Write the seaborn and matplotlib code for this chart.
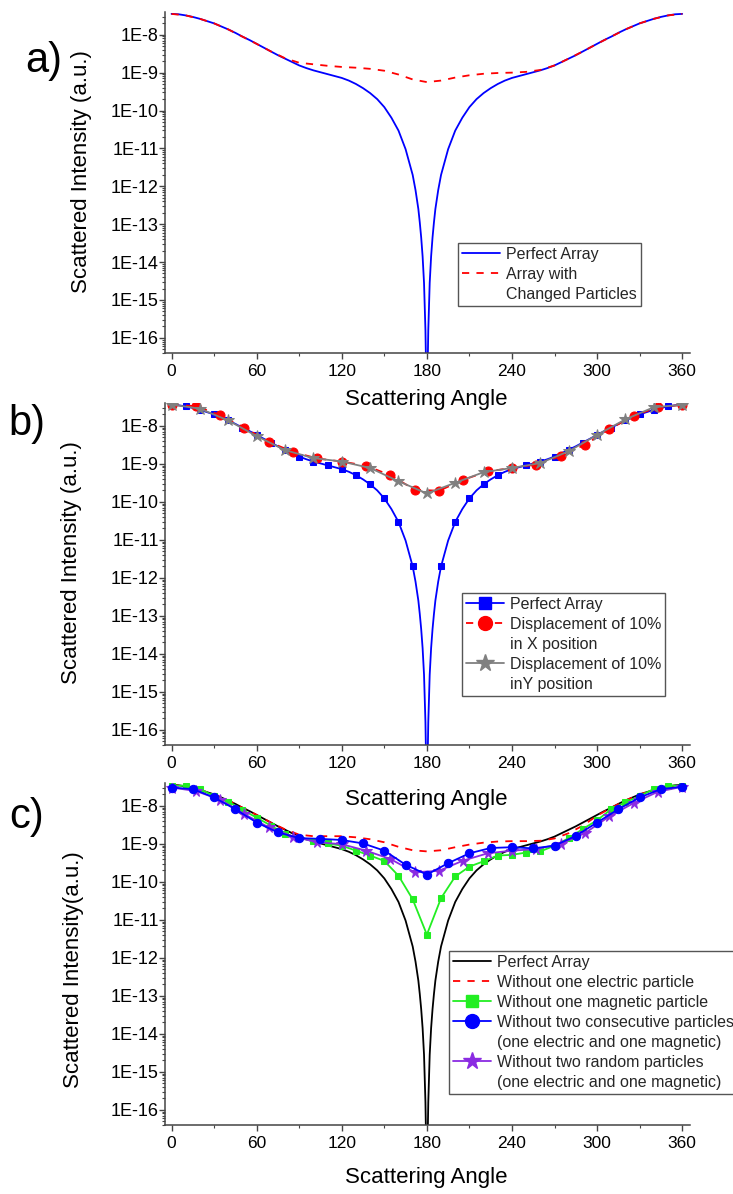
import numpy as np
import matplotlib
matplotlib.use("Agg")
import matplotlib.pyplot as plt
import seaborn as sns
from matplotlib.lines import Line2D
from matplotlib.ticker import FixedLocator, LogLocator, FuncFormatter, NullFormatter, MultipleLocator

# ---------------- data (log10 of scattered intensity, a.u.) ----------------
perfect_angle = [0, 5, 10, 15, 20, 25, 30, 35, 40, 45, 50, 55, 60, 65, 70, 75, 80, 85,
                 90, 95, 100, 105, 110, 115, 120, 125, 130, 135, 140, 145, 150, 155,
                 160, 165, 170, 172, 174, 175, 176, 177, 178, 179, 180,
                 181, 182, 183, 184, 185, 186, 188, 190, 195, 200, 205, 210, 215, 220,
                 225, 230, 235, 240, 245, 250, 255, 260, 265, 270, 275, 280, 285, 290,
                 295, 300, 305, 310, 315, 320, 325, 330, 335, 340, 345, 350, 355, 360]
perfect_log10 = [-7.45, -7.46, -7.49, -7.53, -7.58, -7.64, -7.70, -7.78, -7.86, -7.95,
                 -8.05, -8.14, -8.24, -8.34, -8.44, -8.54, -8.63, -8.72, -8.81, -8.88,
                 -8.94, -8.99, -9.04, -9.09, -9.14, -9.21, -9.30, -9.41, -9.54, -9.70,
                 -9.91, -10.19, -10.53, -11.02, -11.70, -12.10, -12.60, -12.95, -13.35,
                 -13.85, -14.55, -15.80, -18.00,
                 -15.80, -14.55, -13.85, -13.35, -12.95, -12.60, -12.10, -11.70, -11.02,
                 -10.53, -10.19, -9.91, -9.70, -9.54, -9.41, -9.30, -9.21, -9.14, -9.09,
                 -9.04, -8.99, -8.94, -8.88, -8.81, -8.72, -8.63, -8.54, -8.44, -8.34,
                 -8.24, -8.14, -8.05, -7.95, -7.86, -7.78, -7.70, -7.64, -7.58, -7.53,
                 -7.49, -7.46, -7.45]

step10_angle = list(range(0, 361, 10))
a_changed_log10 = [-7.45, -7.49, -7.58, -7.70, -7.86, -8.05, -8.24, -8.44, -8.62, -8.74,
                   -8.78, -8.82, -8.85, -8.87, -8.90, -8.95, -9.05, -9.18, -9.25, -9.21,
                   -9.13, -9.07, -9.03, -9.01, -9.00, -8.98, -8.93, -8.81, -8.63, -8.44,
                   -8.24, -8.05, -7.86, -7.70, -7.58, -7.49, -7.45]

step17_angle = [0, 17.1, 34.3, 51.4, 68.6, 85.7, 102.9, 120, 137.1, 154.3, 171.4, 188.6,
                205.7, 222.9, 240, 257.1, 274.3, 291.4, 308.6, 325.7, 342.9, 360]
b_dispx_log10 = [-7.45, -7.48, -7.72, -8.05, -8.42, -8.69, -8.86, -8.94, -9.05, -9.30,
                 -9.68, -9.71, -9.42, -9.20, -9.11, -9.02, -8.80, -8.50, -8.09, -7.74,
                 -7.51, -7.45]

step20_angle = list(range(0, 361, 20))
b_dispy_log10 = [-7.44, -7.55, -7.86, -8.27, -8.64, -8.85, -8.94, -9.11, -9.46, -9.78,
                 -9.50, -9.22, -9.11, -8.98, -8.67, -8.24, -7.83, -7.51, -7.45]

c_no_electric_log10 = [-7.45, -7.49, -7.58, -7.70, -7.86, -8.05, -8.24, -8.44, -8.62, -8.76,
                       -8.80, -8.80, -8.80, -8.83, -8.88, -8.96, -9.08, -9.17, -9.20, -9.17,
                       -9.09, -9.02, -8.97, -8.94, -8.93, -8.93, -8.92, -8.86, -8.72, -8.52,
                       -8.26, -8.05, -7.86, -7.70, -7.58, -7.49, -7.45]
c_no_magnetic_log10 = [-7.47, -7.47, -7.56, -7.74, -7.89, -8.11, -8.31, -8.52, -8.74, -8.85,
                       -8.92, -8.99, -9.05, -9.18, -9.31, -9.45, -9.84, -10.46, -11.39, -10.43,
                       -9.86, -9.60, -9.46, -9.31, -9.29, -9.23, -9.20, -9.05, -8.85, -8.61,
                       -8.38, -8.09, -7.91, -7.74, -7.56, -7.47, -7.47]

step15_angle = list(range(0, 361, 15))
c_two_consec_log10 = [-7.52, -7.56, -7.78, -8.09, -8.44, -8.70, -8.85, -8.87, -8.90, -8.99,
                      -9.18, -9.55, -9.81, -9.51, -9.25, -9.11, -9.09, -9.12, -9.05, -8.79,
                      -8.44, -8.09, -7.78, -7.56, -7.50]
c_two_random_log10 = [-7.52, -7.61, -7.84, -8.22, -8.57, -8.81, -8.96, -9.01, -9.18, -9.40,
                      -9.75, -9.71, -9.44, -9.25, -9.18, -9.14, -9.00, -8.72, -8.28, -7.93,
                      -7.63, -7.50]

ytick_exponents = [-8, -9, -10, -11, -12, -13, -14, -15, -16]
xtick_values = [0, 60, 120, 180, 240, 300, 360]


def I(vals):
    return np.power(10.0, np.asarray(vals, dtype=float))


# ---------------- style ----------------
sns.set_theme(style="ticks")
plt.rcParams["font.family"] = ["Liberation Sans", "DejaVu Sans"]
plt.rcParams["axes.edgecolor"] = "#444444"
plt.rcParams["axes.linewidth"] = 1.1

W, H = 733, 1194
fig = plt.figure(figsize=(W / 100, H / 100), dpi=100)


def make_axes(top_px, bot_px):
    left, right = 165, 690
    return fig.add_axes([left / W, 1 - bot_px / H, (right - left) / W, (bot_px - top_px) / H])


axA = make_axes(12, 353)
axB = make_axes(403, 745)
axC = make_axes(783, 1125)

for ax in (axA, axB, axC):
    ax.set_yscale("log")
    ax.set_xlim(-4.6, 365.5)
    ax.set_ylim(10 ** -16.4, 10 ** -7.4)
    ax.yaxis.set_major_locator(FixedLocator([10.0 ** e for e in ytick_exponents]))
    ax.yaxis.set_major_formatter(FuncFormatter(lambda v, p: "1E%d" % int(round(np.log10(v)))))
    ax.yaxis.set_minor_locator(LogLocator(base=10, subs=np.arange(2, 10), numticks=40))
    ax.yaxis.set_minor_formatter(NullFormatter())
    ax.xaxis.set_major_locator(FixedLocator(xtick_values))
    ax.xaxis.set_minor_locator(MultipleLocator(30))
    ax.tick_params(axis="both", which="major", direction="out", length=4, width=1,
                   color="#444444", labelcolor="black")
    ax.tick_params(axis="both", which="minor", direction="out", length=2.2, width=0.8,
                   color="#444444")
    ax.tick_params(axis="y", which="major", pad=0.5, labelsize=13)
    ax.tick_params(axis="x", which="major", pad=4, labelsize=12.5)
    sns.despine(ax=ax)
    ax.set_facecolor("white")

pa = np.asarray(perfect_angle, dtype=float)
mark10 = list(np.where(np.isclose(pa % 10, 0))[0])

# ---------------- panel a ----------------
sns.lineplot(x=perfect_angle, y=I(perfect_log10), ax=axA, color="#0000ff", lw=1.3,
             estimator=None, sort=False)
sns.lineplot(x=step10_angle, y=I(a_changed_log10), ax=axA, color="#ff0000", lw=1.3,
             estimator=None, sort=False)
axA.lines[-1].set_linestyle((0, (4, 4)))

# ---------------- panel b ----------------
sns.lineplot(x=perfect_angle, y=I(perfect_log10), ax=axB, color="#0000ff", lw=1.3,
             estimator=None, sort=False, marker="s", markevery=mark10, markersize=5,
             markeredgecolor="#0000ff", markerfacecolor="#0000ff")
sns.lineplot(x=step17_angle, y=I(b_dispx_log10), ax=axB, color="#ff0000", lw=1.3,
             estimator=None, sort=False, marker="o", markersize=6.5,
             markeredgecolor="#ff0000", markerfacecolor="#ff0000")
axB.lines[-1].set_linestyle((0, (4, 4)))
sns.lineplot(x=step20_angle, y=I(b_dispy_log10), ax=axB, color="#808080", lw=1.3,
             estimator=None, sort=False, marker="*", markersize=9,
             markeredgecolor="#808080", markerfacecolor="#808080")

# ---------------- panel c ----------------
sns.lineplot(x=perfect_angle, y=I(perfect_log10), ax=axC, color="black", lw=1.3,
             estimator=None, sort=False)
sns.lineplot(x=step10_angle, y=I(c_no_electric_log10), ax=axC, color="#ff0000", lw=1.3,
             estimator=None, sort=False)
axC.lines[-1].set_linestyle((0, (4, 4)))
sns.lineplot(x=step10_angle, y=I(c_no_magnetic_log10), ax=axC, color="#22ee22", lw=1.3,
             estimator=None, sort=False, marker="s", markersize=5,
             markeredgecolor="#22ee22", markerfacecolor="#22ee22")
sns.lineplot(x=step17_angle, y=I(c_two_random_log10), ax=axC, color="#8a2be2", lw=1.3,
             estimator=None, sort=False, marker="*", markersize=8.5,
             markeredgecolor="#8a2be2", markerfacecolor="#8a2be2")
sns.lineplot(x=step15_angle, y=I(c_two_consec_log10), ax=axC, color="#0000ff", lw=1.3,
             estimator=None, sort=False, marker="o", markersize=6,
             markeredgecolor="#0000ff", markerfacecolor="#0000ff")

for ax in (axA, axB, axC):
    ax.set_xlabel("")
    ax.set_ylabel("")

# ---------------- legends ----------------
blank = Line2D([], [], linestyle="none")


def legend(ax, handles, labels, ul_px, fs=11.5):
    lg = ax.legend(handles, labels, loc="upper left",
                   bbox_to_anchor=(ul_px[0] / W, 1 - ul_px[1] / H),
                   bbox_transform=fig.transFigure, borderaxespad=0, frameon=True,
                   fancybox=False, framealpha=1, edgecolor="#555555", fontsize=fs,
                   handlelength=2.4, handletextpad=0.35, labelspacing=0.31,
                   borderpad=0.25, numpoints=1)
    lg.get_frame().set_linewidth(1.0)
    return lg


legend(axA,
       [Line2D([], [], color="#0000ff", lw=1.3),
        Line2D([], [], color="#ff0000", lw=1.3, linestyle=(0, (4, 4))), blank],
       ["Perfect Array", "Array with", "Changed Particles"], (458, 243))

legend(axB,
       [Line2D([], [], color="#0000ff", lw=1.3, marker="s", markersize=9),
        Line2D([], [], color="#ff0000", lw=1.3, linestyle=(0, (4, 4)), marker="o", markersize=10),
        blank,
        Line2D([], [], color="#808080", lw=1.3, marker="*", markersize=13),
        blank],
       ["Perfect Array", "Displacement of 10%", "in X position",
        "Displacement of 10%", "inY position"], (462, 593))

legend(axC,
       [Line2D([], [], color="black", lw=1.3),
        Line2D([], [], color="#ff0000", lw=1.3, linestyle=(0, (4, 4))),
        Line2D([], [], color="#22ee22", lw=1.3, marker="s", markersize=9),
        Line2D([], [], color="#0000ff", lw=1.3, marker="o", markersize=10),
        blank,
        Line2D([], [], color="#8a2be2", lw=1.3, marker="*", markersize=13),
        blank],
       ["Perfect Array", "Without one electric particle", "Without one magnetic particle",
        "Without two consecutive particles", "(one electric and one magnetic)",
        "Without two random particles", "(one electric and one magnetic)"], (449, 951),
       fs=11.5)

# ---------------- axis labels & panel tags ----------------
def ftext(xp, yp, s, **kw):
    fig.text(xp / W, 1 - yp / H, s, ha="center", va="center", color="black", **kw)


ftext(426.5, 399, "Scattering Angle", fontsize=16)
ftext(426.5, 799, "Scattering Angle", fontsize=16)
ftext(426.5, 1178, "Scattering Angle", fontsize=16)
ftext(82, 172, "Scattered Intensity (a.u.)", fontsize=16, rotation=90)
ftext(71, 563, "Scattered Intensity (a.u.)", fontsize=16, rotation=90)
ftext(73, 970, "Scattered Intensity(a.u.)", fontsize=16, rotation=90)
ftext(44, 61, "a)", fontsize=30)
ftext(27, 424, "b)", fontsize=30)
ftext(27, 817, "c)", fontsize=30)

fig.savefig("out.png", dpi=100, facecolor="white")
